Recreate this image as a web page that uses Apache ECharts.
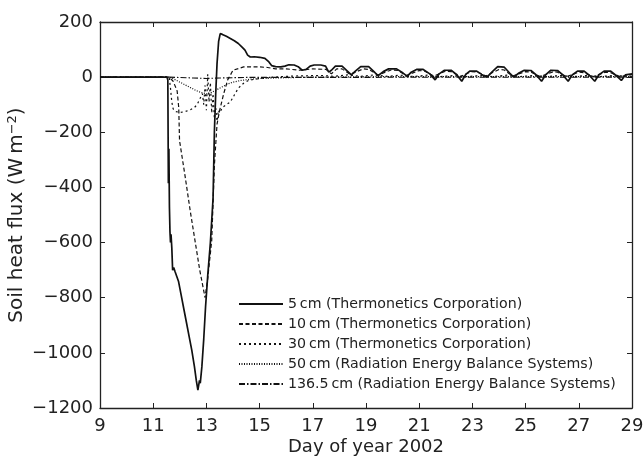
<!DOCTYPE html>
<html>
<head>
<meta charset="utf-8">
<script src="https://cdn.jsdelivr.net/npm/echarts@6/dist/echarts.min.js"></script>
<style>html,body{margin:0;padding:0;background:#fff}#c{width:644px;height:460px}</style>
</head>
<body>
<div id="c"></div>
<script>
const xTicks = [9, 29, 2];
const yTicks = [-1200, 200, 200];
const seriesNames = [
  '5\u2009cm (Thermonetics Corporation)',
  '10\u2009cm (Thermonetics Corporation)',
  '30\u2009cm (Thermonetics Corporation)',
  '50\u2009cm (Radiation Energy Balance Systems)',
  '136.5\u2009cm (Radiation Energy Balance Systems)'
];
const flux5 = [[9,0],[11.52,0],[11.55,-10],[11.57,-385],[11.59,-260],[11.61,-470],[11.63,-560],[11.65,-600],[11.67,-570],[11.7,-620],[11.73,-700],[11.77,-690],[11.82,-705],[11.88,-700],[11.95,-740],[12.05,-790],[12.15,-840],[12.25,-890],[12.35,-940],[12.45,-990],[12.55,-1050],[12.62,-1100],[12.68,-1135],[12.71,-1140],[12.74,-1100],[12.77,-1110],[12.83,-1050],[12.9,-950],[12.97,-830],[13.05,-720],[13.15,-600],[13.25,-440],[13.3,-200],[13.35,-60],[13.4,50],[13.46,130],[13.52,158],[13.6,155],[13.75,148],[13.9,140],[14.05,132],[14.2,122],[14.35,108],[14.45,98],[14.55,80],[14.65,73],[14.8,74],[15.0,72],[15.2,68],[15.35,55],[15.45,42],[15.6,38],[15.8,37],[15.95,40],[16.1,45],[16.3,44],[16.45,38],[16.6,25],[16.75,28],[16.9,40],[17.05,44],[17.3,44],[17.48,40],[17.6,18],[17.7,25],[17.85,40],[18.1,40],[18.3,22],[18.45,8],[18.6,22],[18.8,38],[19.1,38],[19.3,20],[19.45,5],[19.65,20],[19.85,30],[20.15,30],[20.35,18],[20.55,3],[20.7,18],[20.9,28],[21.15,28],[21.4,12],[21.6,-10],[21.75,12],[21.95,25],[22.2,25],[22.4,10],[22.6,-15],[22.75,10],[22.9,22],[23.15,22],[23.35,10],[23.55,0],[23.75,20],[23.95,38],[24.2,36],[24.4,15],[24.55,0],[24.75,15],[24.95,25],[25.2,24],[25.4,8],[25.6,-15],[25.75,8],[25.95,25],[26.2,24],[26.4,8],[26.6,-15],[26.75,8],[26.95,22],[27.2,22],[27.4,6],[27.6,-15],[27.75,8],[27.95,22],[28.2,22],[28.4,6],[28.6,-12],[28.75,8],[29,12]];
const flux10 = [[9,0],[11.6,0],[11.75,-15],[11.9,-50],[11.96,-110],[11.99,-230],[12.2,-360],[12.4,-490],[12.57,-592],[12.75,-700],[12.95,-800],[13.05,-730],[13.2,-592],[13.3,-320],[13.4,-170],[13.5,-120],[13.65,-60],[13.8,-10],[14.0,25],[14.4,37],[15.0,37],[15.3,35],[15.6,30],[16.0,30],[16.5,25],[17.0,30],[17.5,28],[17.7,12],[17.9,30],[18.1,30],[18.4,10],[18.9,30],[19.1,28],[19.45,8],[19.95,26],[20.2,24],[20.5,6],[21.0,24],[21.2,22],[21.55,4],[22.0,22],[22.2,20],[22.55,2],[22.95,20],[23.2,18],[23.5,4],[24.0,28],[24.2,26],[24.5,4],[25.0,20],[25.2,18],[25.55,2],[26.05,20],[26.2,18],[26.55,2],[27.0,18],[27.2,16],[27.55,2],[28.0,18],[28.2,16],[28.55,2],[29,10]];
const flux30 = [[9,0],[11.6,0],[11.65,-40],[11.7,-90],[11.75,-115],[11.85,-125],[12.0,-128],[12.2,-125],[12.4,-118],[12.55,-110],[12.65,-100],[12.75,-80],[12.85,-60],[12.9,-100],[12.95,-30],[13.0,-120],[13.05,10],[13.1,-90],[13.15,-20],[13.2,-130],[13.25,-60],[13.3,-150],[13.35,-110],[13.4,-160],[13.45,-120],[13.5,-130],[13.6,-110],[13.75,-100],[13.9,-90],[14.05,-65],[14.2,-40],[14.4,-22],[14.6,-11],[15.0,-5],[15.5,0],[16.3,4],[17.3,6],[17.8,3],[18.3,8],[18.8,3],[19.3,8],[19.8,3],[20.3,7],[20.8,2],[21.3,7],[21.8,2],[22.3,6],[22.8,2],[23.3,6],[23.8,2],[24.3,7],[24.8,2],[25.3,6],[25.8,2],[26.3,6],[26.8,2],[27.3,6],[27.8,2],[28.3,6],[29,3]];
const flux50 = [[9,0],[11.6,0],[11.8,-8],[12.0,-18],[12.2,-28],[12.4,-38],[12.6,-48],[12.8,-56],[13.0,-60],[13.1,-62],[13.2,-55],[13.4,-45],[13.6,-35],[13.8,-25],[14.0,-18],[14.3,-12],[14.7,-7],[15.2,-4],[16.0,-2],[17.0,0],[20.0,2],[24.0,2],[29,2]];
const flux136 = [[9,0],[11.6,0],[12.5,-3],[13.0,-5],[13.5,-3],[14.5,-1],[29,0]];

const dataSets = [flux5, flux10, flux30, flux50, flux136];
const dashes = ['solid', [4,2.5], [2,3], [1,1.5], [6,2,1.5,2]];
const widths = [1.7, 1.2, 1.2, 1.2, 1.1];
const font = 'DejaVu Sans, Verdana, sans-serif';

const chart = echarts.init(document.getElementById('c'), null, {renderer:'canvas'});
const axisCommon = {
  type:'value', splitLine:{show:false},
  axisLine:{show:true, onZero:false, lineStyle:{color:'#222', width:1.3}},
  axisTick:{show:true, inside:true, length:5, lineStyle:{color:'#222', width:1}}
};
chart.setOption({
  animation:false,
  backgroundColor:'#fff',
  grid:{left:100, right:12, top:22, bottom:52, containLabel:false, outerBoundsMode:'none'},
  legend:{
    orient:'vertical', left:233, top:292, itemWidth:44, itemHeight:14, itemGap:6,
    data:seriesNames,
    itemStyle:{opacity:0, borderWidth:0},
    textStyle:{fontFamily:font, fontSize:14.2, color:'#222'}
  },
  xAxis:[
    Object.assign({}, axisCommon, {position:'bottom', min:xTicks[0], max:xTicks[1], interval:xTicks[2],
      axisLabel:{fontFamily:font, fontSize:18, color:'#222', margin:9},
      name:'Day of year 2002', nameLocation:'middle', nameGap:30, nameMoveOverlap:false,
      nameTextStyle:{fontFamily:font, fontSize:18, color:'#222'}}),
    Object.assign({}, axisCommon, {position:'top', min:xTicks[0], max:xTicks[1], interval:xTicks[2],
      axisLabel:{show:false}})
  ],
  yAxis:[
    Object.assign({}, axisCommon, {position:'left', min:yTicks[0], max:yTicks[1], interval:yTicks[2],
      axisLabel:{fontFamily:font, fontSize:18, color:'#222', margin:7,
        formatter:function(v){return String(v).replace('-', '\u2212');}},
      name:'Soil heat flux (W\u2009m{sup|\u22122})', nameLocation:'middle', nameGap:72, nameMoveOverlap:false,
      nameTextStyle:{fontFamily:font, fontSize:20, color:'#222',
        rich:{sup:{fontFamily:font, fontSize:13, color:'#222', verticalAlign:'bottom', padding:[0,0,9,0]}}}}),
    Object.assign({}, axisCommon, {position:'right', min:yTicks[0], max:yTicks[1], interval:yTicks[2],
      axisLabel:{show:false}})
  ],
  series: dataSets.map(function(d, i){
    return {
      name: seriesNames[i], type:'line', data:d, symbol:'none', showSymbol:false,
      xAxisIndex:0, yAxisIndex:0, z: 10 - i,
      lineStyle:{color:'#111', width:widths[i], type:dashes[i]},
      itemStyle:{color:'#111'}
    };
  })
});
</script>
</body>
</html>
